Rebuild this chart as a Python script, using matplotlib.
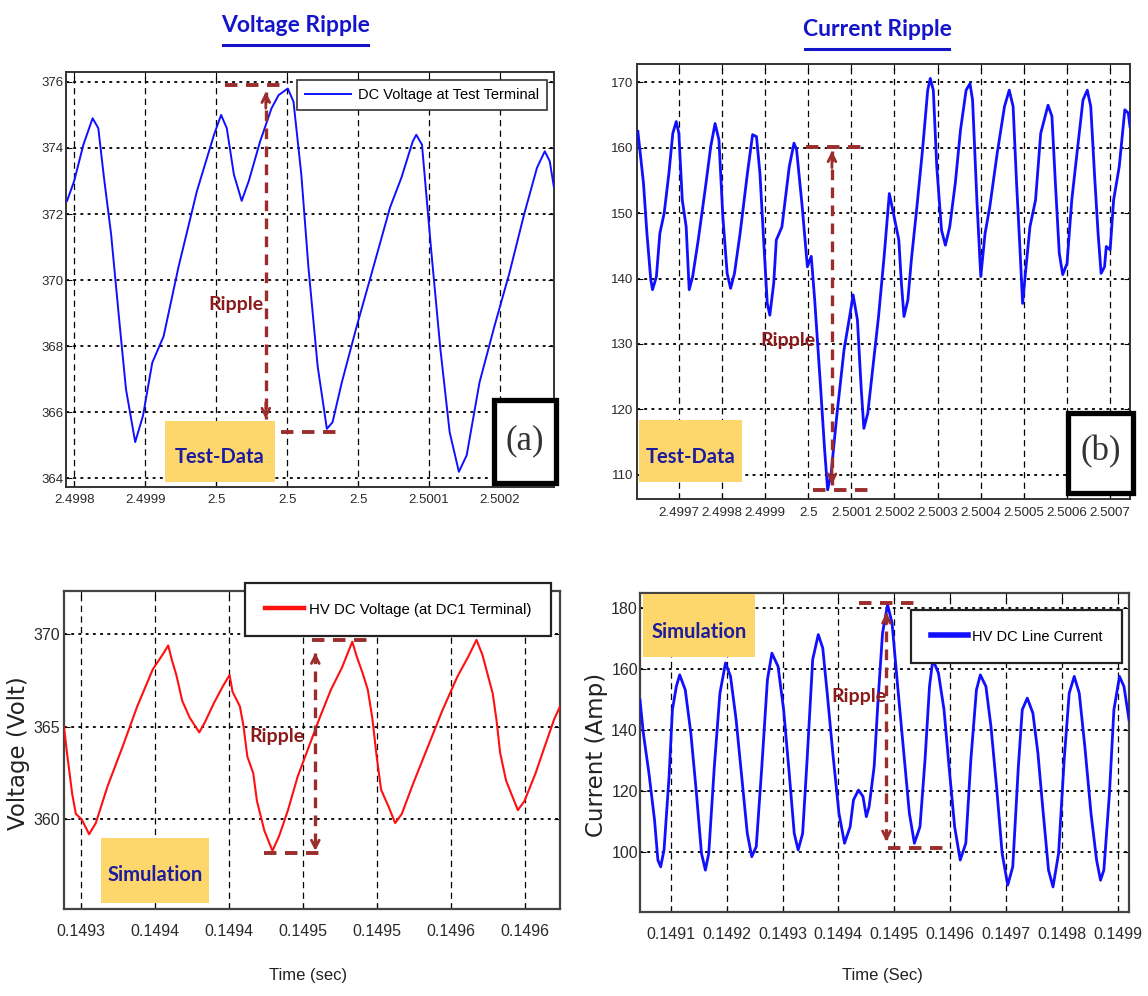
import numpy as np
import matplotlib
matplotlib.use("Agg")
import matplotlib.pyplot as plt
from matplotlib.patches import Rectangle
from matplotlib.lines import Line2D
from matplotlib.ticker import FixedLocator, FixedFormatter

# ---------------- data ----------------
# (a) Test data, DC voltage. Time = VA_T0 + steps * VA_DT
VA_T0, VA_DT = 2.49985, 5e-5
va_steps = [-0.10, 0.00, 0.13, 0.26, 0.34, 0.42, 0.52, 0.63, 0.73, 0.86,
            0.97, 1.10, 1.26, 1.47, 1.73, 1.97, 2.07, 2.15, 2.25, 2.36,
            2.46, 2.62, 2.78, 2.88, 3.01, 3.09, 3.20, 3.30, 3.43, 3.56,
            3.64, 3.77, 3.98, 4.19, 4.45, 4.61, 4.77, 4.82, 4.90, 5.03,
            5.16, 5.29, 5.42, 5.53, 5.71, 5.92, 6.13, 6.34, 6.52, 6.63,
            6.70, 6.76]
va_volt = [372.4, 373.0, 374.1, 374.9, 374.6, 373.1, 371.4, 368.9, 366.7, 365.1,
           365.9, 367.5, 368.3, 370.4, 372.7, 374.4, 375.0, 374.6, 373.2, 372.4,
           373.0, 374.2, 375.2, 375.6, 375.8, 375.4, 373.2, 370.4, 367.4, 365.5,
           365.7, 366.9, 368.6, 370.2, 372.2, 373.1, 374.2, 374.4, 374.1, 370.9,
           367.9, 365.4, 364.2, 364.7, 366.9, 368.6, 370.2, 372.0, 373.4, 373.9,
           373.6, 372.8]
va_xlabels = ['2.4998', '2.4999', '2.5', '2.5', '2.5', '2.5001', '2.5002']
va_yticks = [364, 366, 368, 370, 372, 374, 376]

# (b) Test data, current. Time = IB_T0 + steps * IB_DT
IB_T0, IB_DT = 2.5, 1e-4
ib_steps = [-3.95, -3.82, -3.74, -3.65, -3.61, -3.52, -3.44, -3.34, -3.23, -3.14,
            -3.06, -3.00, -2.92, -2.83, -2.76, -2.68, -2.55, -2.38, -2.26, -2.16,
            -2.07, -1.98, -1.88, -1.80, -1.71, -1.58, -1.41, -1.29, -1.20, -1.12,
            -1.03, -0.95, -0.89, -0.80, -0.74, -0.61, -0.44, -0.33, -0.27, -0.14,
            -0.02, 0.07, 0.15, 0.28, 0.38, 0.45, 0.53, 0.66, 0.83, 0.96,
            1.04, 1.14, 1.23, 1.29, 1.38, 1.50, 1.63, 1.76, 1.88, 1.99,
            2.10, 2.16, 2.22, 2.31, 2.39, 2.52, 2.65, 2.77, 2.83, 2.90,
            2.98, 3.09, 3.18, 3.28, 3.41, 3.53, 3.66, 3.75, 3.81, 3.91,
            4.00, 4.10, 4.21, 4.38, 4.55, 4.66, 4.75, 4.83, 4.91, 4.97,
            5.05, 5.14, 5.27, 5.39, 5.56, 5.65, 5.73, 5.82, 5.90, 6.00,
            6.11, 6.24, 6.37, 6.47, 6.55, 6.64, 6.72, 6.79, 6.87, 6.91,
            7.00, 7.08, 7.21, 7.34, 7.42, 7.46]
ib_amp = [162.5, 154.6, 146.9, 139.8, 138.3, 140.3, 146.9, 150.0, 156.1, 162.2,
          164.0, 162.2, 152.0, 147.9, 138.3, 140.3, 145.9, 154.1, 160.2, 163.7,
          161.2, 149.5, 140.8, 138.5, 140.8, 146.9, 156.1, 162.0, 161.7, 156.1,
          145.4, 136.2, 134.4, 139.3, 145.9, 147.9, 157.1, 160.7, 159.7, 151.0,
          141.8, 143.4, 136.7, 124.0, 113.8, 107.7, 110.2, 118.9, 129.1, 134.2,
          137.5, 133.7, 123.0, 117.1, 119.4, 126.5, 134.2, 143.4, 153.0, 149.5,
          145.9, 139.3, 134.2, 136.7, 142.8, 151.0, 159.7, 168.8, 170.6, 168.8,
          157.1, 147.4, 145.1, 147.9, 154.6, 162.7, 168.8, 169.8, 167.3, 152.0,
          140.3, 146.9, 151.0, 159.1, 166.3, 168.8, 166.3, 154.6, 144.4, 136.2,
          141.8, 147.9, 152.0, 162.2, 166.5, 164.8, 154.6, 143.9, 140.6, 142.3,
          152.0, 159.7, 167.3, 168.8, 166.3, 155.6, 146.9, 140.8, 141.8, 144.9,
          144.4, 152.0, 157.1, 165.8, 165.3, 163.2]
ib_xlabels = ['2.4997', '2.4998', '2.4999', '2.5', '2.5001', '2.5002',
              '2.5003', '2.5004', '2.5005', '2.5006', '2.5007']
ib_xticks_steps = [-3, -2, -1, 0, 1, 2, 3, 4, 5, 6, 7]
ib_yticks = [110, 120, 130, 140, 150, 160, 170]

# (c) Simulation, HV DC voltage. Time = VC_T0 + steps * VC_DT
VC_T0, VC_DT = 0.1493, 5e-5
vc_steps = [-0.23, -0.19, -0.12, -0.07, 0.01, 0.11, 0.20, 0.36, 0.56, 0.76,
            0.97, 1.12, 1.18, 1.23, 1.29, 1.37, 1.47, 1.60, 1.67, 1.80,
            1.92, 2.01, 2.05, 2.15, 2.20, 2.25, 2.33, 2.38, 2.48, 2.59,
            2.68, 2.80, 2.93, 3.08, 3.23, 3.38, 3.53, 3.67, 3.73, 3.81,
            3.88, 3.94, 4.00, 4.06, 4.16, 4.25, 4.34, 4.49, 4.69, 4.89,
            5.09, 5.24, 5.35, 5.43, 5.51, 5.57, 5.62, 5.67, 5.75, 5.82,
            5.91, 6.00, 6.15, 6.27, 6.40, 6.48]
vc_volt = [365.0, 363.6, 361.4, 360.3, 360.0, 359.2, 359.8, 361.8, 363.9, 366.1,
           368.1, 369.0, 369.4, 368.6, 367.8, 366.4, 365.5, 364.7, 365.2, 366.3,
           367.2, 367.8, 366.9, 366.1, 365.0, 363.4, 362.5, 361.0, 359.4, 358.3,
           359.1, 360.5, 362.3, 363.9, 365.5, 367.0, 368.2, 369.6, 368.8, 367.9,
           367.0, 365.5, 363.4, 361.6, 360.7, 359.8, 360.3, 361.9, 363.9, 365.9,
           367.7, 368.8, 369.7, 368.9, 367.7, 366.8, 365.4, 363.6, 362.1, 361.4,
           360.5, 361.0, 362.5, 363.9, 365.4, 366.1]
vc_xlabels = ['0.1493', '0.1494', '0.1494', '0.1495', '0.1495', '0.1496', '0.1496']
vc_yticks = [360, 365, 370]

# (d) Simulation, HV DC line current. Time = ID_T0 + steps * ID_DT
ID_T0, ID_DT = 0.1491, 1e-4
id_steps = [-0.55, -0.49, -0.39, -0.29, -0.23, -0.18, -0.12, -0.03, 0.03, 0.10,
            0.16, 0.26, 0.36, 0.46, 0.55, 0.62, 0.68, 0.78, 0.88, 0.98,
            1.07, 1.17, 1.27, 1.37, 1.45, 1.53, 1.63, 1.73, 1.81, 1.92,
            2.02, 2.12, 2.21, 2.28, 2.36, 2.44, 2.54, 2.64, 2.72, 2.80,
            2.90, 3.01, 3.11, 3.21, 3.27, 3.36, 3.44, 3.50, 3.55, 3.64,
            3.71, 3.79, 3.88, 3.96, 4.05, 4.16, 4.27, 4.36, 4.46, 4.55,
            4.63, 4.69, 4.79, 4.89, 4.98, 5.08, 5.18, 5.28, 5.37, 5.47,
            5.54, 5.64, 5.73, 5.83, 5.93, 6.03, 6.12, 6.22, 6.29, 6.38,
            6.48, 6.57, 6.66, 6.76, 6.84, 6.94, 7.04, 7.13, 7.22, 7.31,
            7.41, 7.52, 7.62, 7.69, 7.75, 7.85, 7.93, 8.03, 8.11, 8.20]
id_amp = [149.9, 139.0, 125.9, 110.6, 97.5, 95.3, 100.8, 124.8, 146.7, 154.3,
          158.1, 153.2, 139.0, 119.3, 99.7, 94.2, 99.7, 128.1, 152.1, 162.0,
          157.6, 143.4, 124.8, 106.2, 98.6, 101.9, 128.1, 156.5, 165.2, 160.9,
          146.7, 125.9, 106.2, 100.8, 106.2, 130.3, 163.1, 171.3, 166.9, 152.1,
          132.5, 112.8, 103.0, 108.4, 117.2, 120.4, 118.3, 111.7, 115.0, 128.1,
          149.9, 171.8, 181.1, 175.1, 156.5, 134.6, 112.8, 103.0, 108.4, 130.3,
          154.3, 163.1, 158.7, 146.7, 128.1, 108.4, 97.5, 103.0, 130.3, 153.2,
          158.1, 154.3, 141.2, 121.5, 99.7, 89.3, 95.3, 128.1, 146.7, 150.5,
          145.6, 132.5, 113.9, 94.2, 88.7, 99.7, 130.3, 152.1, 157.6, 152.1,
          134.6, 112.8, 97.5, 90.9, 94.2, 119.3, 146.7, 157.6, 154.3, 143.4]
id_xlabels = ['0.1491', '0.1492', '0.1493', '0.1494', '0.1495',
              '0.1496', '0.1497', '0.1498', '0.1499']
id_yticks = [100, 120, 140, 160, 180]

# ---------------- styling ----------------
W, H = 1148, 996
SANS = ['Liberation Sans', 'DejaVu Sans']
BOLDF = ['Lato', 'DejaVu Sans']
SERIF = ['Liberation Serif', 'DejaVu Serif']
TITLE_C = '#1414c8'
ANN_C = '#9c2d2d'
RIP_C = '#8b1a1a'
BOX_C = '#fdd66c'
LAB_C = '#1c1c9c'

fig = plt.figure(figsize=(W / 100, H / 100), dpi=100)
fig.patch.set_facecolor('white')


def px_axes(l, t, r, b):
    return fig.add_axes([l / W, 1 - b / H, (r - l) / W, (b - t) / H])


def tt(t0, dt, steps):
    return t0 + np.asarray(steps, dtype=float) * dt


def setup(ax, t0, dt, xlim, ylim, xtick_steps, xlabels, yticks, fs,
          xpad, ypad, spine_c, spine_lw):
    ax.set_xlim(tt(t0, dt, xlim))
    ax.set_ylim(ylim)
    ax.xaxis.set_major_locator(FixedLocator(tt(t0, dt, xtick_steps)))
    ax.xaxis.set_major_formatter(FixedFormatter(xlabels))
    ax.set_yticks(yticks)
    ax.set_yticklabels([str(v) for v in yticks])
    for lab in ax.get_xticklabels() + ax.get_yticklabels():
        lab.set_family(SANS)
        lab.set_fontsize(fs)
        lab.set_color('#2a2a2a')
    ax.tick_params(axis='x', direction='in', length=4, pad=xpad, top=True)
    ax.tick_params(axis='y', direction='in', length=4, pad=ypad, right=True)
    ax.xaxis.grid(True, color='black', lw=0.9, ls=(0, (5, 3.5)))
    ax.yaxis.grid(True, color='black', lw=1.3, ls=(0, (1.6, 2.4)))
    for s in ax.spines.values():
        s.set_color(spine_c)
        s.set_linewidth(spine_lw)


def ripple(ax, t0, dt, top, vert, bot, text_at, fs=14):
    dash = (0, (3.2, 2.2))
    for (x0, x1, y) in (top, bot):
        ax.plot(tt(t0, dt, [x0, x1]), [y, y], color=ANN_C, lw=2.8, ls=dash,
                zorder=6, solid_capstyle='butt')
    xv, y0, y1 = vert
    xx = tt(t0, dt, [xv, xv])
    ax.plot(xx, [y0, y1], color=ANN_C, lw=2.4, ls=dash, zorder=6)
    for ye, yd in ((y0, y1), (y1, y0)):
        ax.annotate('', xy=(xx[0], ye), xytext=(xx[0], ye + (yd - ye) * 0.05),
                    arrowprops=dict(arrowstyle='->,head_length=0.55,head_width=0.28',
                                    color=ANN_C, lw=2.0, shrinkA=0, shrinkB=0),
                    zorder=6)
    ax.text(tt(t0, dt, [text_at[0]])[0], text_at[1], 'Ripple', color=RIP_C,
            fontsize=fs, fontweight='bold', family=BOLDF, ha='center',
            va='center', zorder=7)


def fig_rect(x0, y0, x1, y1, **kw):
    r = Rectangle((x0 / W, 1 - y1 / H), (x1 - x0) / W, (y1 - y0) / H,
                  transform=fig.transFigure, **kw)
    fig.add_artist(r)


def fig_text(x, y, s, **kw):
    fig.text(x / W, 1 - y / H, s, **kw)


def yellow_label(x0, y0, x1, y1, ty, s):
    fig_rect(x0, y0, x1, y1, facecolor=BOX_C, edgecolor='none', zorder=3)
    fig_text((x0 + x1) / 2, ty, s, color=LAB_C, fontsize=14.5,
             fontweight='bold', family=BOLDF, ha='center', va='center', zorder=4)


def tag_box(x0, y0, x1, y1, s):
    fig_rect(x0, y0, x1, y1, facecolor='white', edgecolor='black', lw=3.8, zorder=3)
    fig_text((x0 + x1) / 2, (y0 + y1) / 2 - 1, s, color='#333333', fontsize=25,
             family=SERIF, ha='center', va='center', zorder=4)


# ---------------- (a) ----------------
axa = px_axes(66, 72, 554, 487)
setup(axa, VA_T0, VA_DT, [-0.115, 6.76], (363.74, 376.30), list(range(7)),
      va_xlabels, va_yticks, 9.5, 5, 2, '#333333', 1.4)
axa.plot(tt(VA_T0, VA_DT, va_steps), va_volt, color='#1010ff', lw=1.4,
         label='DC Voltage at Test Terminal', zorder=4)
leg = axa.legend(loc='upper right', bbox_to_anchor=(0.986, 0.981), borderaxespad=0,
                 fancybox=False, framealpha=1, edgecolor='#333333',
                 prop=dict(family=SANS, size=10.5), handlelength=3.2,
                 handletextpad=0.45, borderpad=0.55)
leg.get_frame().set_linewidth(1.2)
ripple(axa, VA_T0, VA_DT, (2.12, 2.99, 375.9), (2.70, 375.7, 365.8),
       (2.91, 3.75, 365.4), (2.28, 369.25))

# ---------------- (b) ----------------
axb = px_axes(637, 64, 1130, 499)
setup(axb, IB_T0, IB_DT, [-3.97, 7.46], (106.3, 172.8), ib_xticks_steps,
      ib_xlabels, ib_yticks, 9.6, 6, 3, '#333333', 1.4)
axb.plot(tt(IB_T0, IB_DT, ib_steps), ib_amp, color='#1010ff', lw=2.0, zorder=4)
ripple(axb, IB_T0, IB_DT, (-0.06, 1.38, 160.1), (0.55, 159.5, 108.5),
       (0.11, 1.55, 107.7), (-0.48, 130.6))

# ---------------- (c) ----------------
axc = px_axes(64, 591, 560, 909)
setup(axc, VC_T0, VC_DT, [-0.23, 6.48], (355.16, 372.34), list(range(7)),
      vc_xlabels, vc_yticks, 11.5, 11, 3, '#444444', 1.6)
axc.plot(tt(VC_T0, VC_DT, vc_steps), vc_volt, color='#ff1010', lw=1.5,
         label='HV DC Voltage (at DC1 Terminal)', zorder=4)
leg = axc.legend(loc='upper right', bbox_to_anchor=(0.982, 1.025), borderaxespad=0,
                 fancybox=False, framealpha=1, edgecolor='#222222',
                 prop=dict(family=SANS, size=10.8), handlelength=2.6,
                 handletextpad=0.35, borderpad=1.3)
leg.get_frame().set_linewidth(1.6)
for ln in leg.get_lines():
    ln.set_linewidth(3.2)
ripple(axc, VC_T0, VC_DT, (3.13, 3.94, 369.7), (3.17, 369.0, 358.3),
       (2.48, 3.28, 358.2), (2.65, 364.5))

# ---------------- (d) ----------------
axd = px_axes(640, 593, 1129, 912)
setup(axd, ID_T0, ID_DT, [-0.55, 8.20], (80.5, 184.9), list(range(9)),
      id_xlabels, id_yticks, 11.5, 11, 1.5, '#444444', 1.6)
axd.plot(tt(ID_T0, ID_DT, id_steps), id_amp, color='#1010ff', lw=2.0,
         label='HV DC Line Current', zorder=4)
leg = axd.legend(loc='upper right', bbox_to_anchor=(0.986, 0.947), borderaxespad=0,
                 fancybox=False, framealpha=1, edgecolor='#222222',
                 prop=dict(family=SANS, size=10.5), handlelength=2.5,
                 handletextpad=0.3, borderpad=1.35)
leg.get_frame().set_linewidth(1.6)
leg.set_zorder(10)
for ln in leg.get_lines():
    ln.set_linewidth(4)
ripple(axd, ID_T0, ID_DT, (3.36, 4.46, 181.6), (3.86, 178.5, 103.5),
       (3.88, 4.95, 101.6), (3.36, 151.0))

# ---------------- decorations ----------------
for (cx, cy, x0, x1, s) in ((296, 26, 223, 368, 'Voltage Ripple'),
                            (877, 30, 805, 949, 'Current Ripple')):
    fig_text(cx, cy, s, color=TITLE_C, fontsize=16.5, fontweight='bold',
             family=BOLDF, ha='center', va='center')
    fig.add_artist(Line2D([x0 / W, x1 / W], [1 - (cy + 19) / H] * 2,
                          transform=fig.transFigure, color=TITLE_C, lw=2.2))

yellow_label(165, 421, 275, 482, 457, 'Test-Data')
yellow_label(639, 420, 742, 482, 457, 'Test-Data')
yellow_label(101, 838, 209, 903, 875, 'Simulation')
yellow_label(643, 594, 755, 657, 632, 'Simulation')

tag_box(494, 400, 556, 483, '(a)')
tag_box(1068, 413, 1133, 493, '(b)')

fig_text(308, 975, 'Time (sec)', fontsize=12, family=SANS, ha='center',
         va='center', color='#222222')
fig_text(882, 975, 'Time (Sec)', fontsize=12, family=SANS, ha='center',
         va='center', color='#222222')
fig_text(19, 753, 'Voltage (Volt)', fontsize=16.5, family=['DejaVu Sans'],
         rotation=90, ha='center', va='center', color='#222222')
fig_text(596, 755, 'Current (Amp)', fontsize=16.5, family=['DejaVu Sans'],
         rotation=90, ha='center', va='center', color='#222222')

fig.savefig('out.png', dpi=100, facecolor='white')
